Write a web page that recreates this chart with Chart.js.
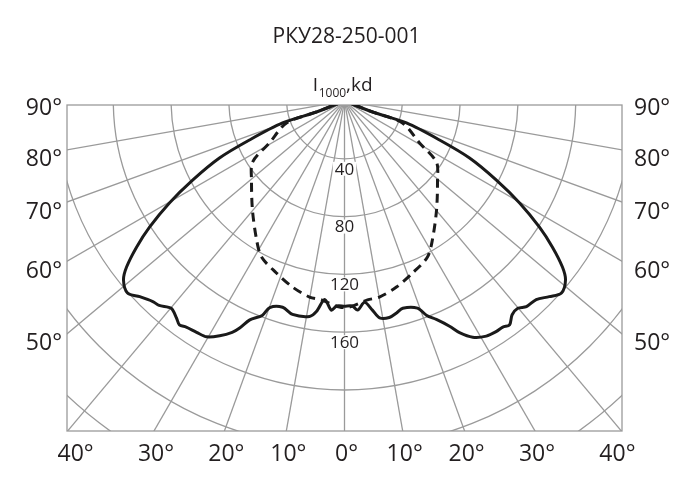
<!DOCTYPE html>
<html>
<head>
<meta charset="utf-8">
<script src="https://cdn.jsdelivr.net/npm/chart.js@4.4.0/dist/chart.umd.min.js"></script>
<style>
  html, body { margin: 0; padding: 0; background: #fff; }
  canvas { display: block; }
</style>
</head>
<body>
<canvas id="polar" width="691" height="494" style="width:691px;height:494px"></canvas>
<script>
// angles are measured from the downward vertical (0°), negative to the left; listed in drawing order
const solidAngles = [-90, -68.6, -70.5, -67.7, -65.5, -62.5, -59.8, -57.1, -54.9, -52.7, -51, -48.5,
  -46.3, -43.7, -42.2, -39.9, -37.7, -36.4, -35, -32.6, -30.3, -28, -25.9, -24.8, -23.4, -21, -19.9, -16.7, -13.7,
  -9.2, -7.6, -5.7, -3.6, -2.2, 0, 2.2, 3.6, 5.7, 7.6, 9.2, 11.7, 13.8, 15.7, 19.4, 21, 22.8, 25, 26.4, 28.5, 31.1,
  33.3, 35, 36.4, 38.1, 39.9, 41.5, 44, 46.3, 48.5, 51, 52.7, 54.9, 57.1, 59.8, 62.5, 65.5, 67.7, 70.5, 68.6, 90];
const solidValues = [0, 20.8, 45.5, 71.1, 95.1, 118.5, 140.2, 160.7, 175.9, 189.6, 196.8, 200.5,
  196, 192, 191, 187, 190, 192.5, 191, 190, 189, 184, 178, 173, 165, 159, 152, 149, 152,
  151, 147, 138, 145, 142, 142, 142, 145, 140, 146, 152, 153, 151, 149, 152, 159, 164, 172, 179, 186, 190,
  191, 191, 192.5, 188, 187, 190, 191, 196, 200.5, 196.8, 189.6, 175.9, 160.7, 140.2, 118.5, 95.1, 71.1, 45.5, 20.8, 0];

const dashedAngles = [-90, -68.6, -69.2, -60.8, -56.4, -49.7, -40.2, -32.3, -28, -21.6, -15.6, -10.1, -6.6, -1.4,
  1.4, 6.6, 10.1, 15.6, 21.6, 28, 32.3, 40.2, 49.7, 56.4, 60.8, 69.2, 68.6, 90];
const dashedValues = [0, 20.8, 42.9, 59.5, 76.4, 84.4, 98.7, 113.8, 122.3, 128, 133.7, 137.8, 138.6, 142.6,
  142.6, 138.6, 137.8, 133.7, 128, 122.3, 113.8, 98.7, 84.4, 76.4, 59.5, 42.9, 20.8, 0];

const ringValues = [40, 80, 120, 160, 200, 240, 280, 320];
const ringLabels = ['40', '80', '120', '160'];
const spokeAngles = [-90, -80, -70, -60, -50, -40, -30, -20, -10, 0, 10, 20, 30, 40, 50, 60, 70, 80, 90];
const sideAngles = [90, 80, 70, 60, 50];
const bottomAngles = [-40, -30, -20, -10, 0, 10, 20, 30, 40];

const chartTitle = 'РКУ28-250-001';

// layout: 57.8 px per 40 kd ring, pole sits 4 px above the frame
const PX_PER_KD = 57.8 / 40;
const X_LIMIT = 277.5 / PX_PER_KD;
const Y_TOP = -4 / PX_PER_KD;
const Y_BOTTOM = -330 / PX_PER_KD;

const rad = d => d * Math.PI / 180;
function toXY(angles, values) {
  return angles.map((a, i) => ({ x: values[i] * Math.sin(rad(a)), y: -values[i] * Math.cos(rad(a)) }));
}

const TEXT = '#231f20';
const GRID = '#9a9a9a';
const FONT = '"Open Sans", "Noto Sans", sans-serif';

const polarGrid = {
  id: 'polarGrid',
  beforeDatasetsDraw(chart) {
    const { ctx, chartArea: a, scales: { x, y } } = chart;
    const cx = x.getPixelForValue(0), cy = y.getPixelForValue(0);
    ctx.save();
    ctx.beginPath();
    ctx.rect(a.left, a.top, a.right - a.left, a.bottom - a.top);
    ctx.clip();
    ctx.strokeStyle = GRID;
    ctx.lineWidth = 1.3;
    ringValues.forEach(v => {
      const r = x.getPixelForValue(v) - cx;
      ctx.beginPath();
      ctx.arc(cx, cy, r, 0, Math.PI * 2);
      ctx.stroke();
    });
    spokeAngles.forEach(d => {
      const far = 600;
      ctx.beginPath();
      ctx.moveTo(cx, cy);
      ctx.lineTo(x.getPixelForValue(far * Math.sin(rad(d))), y.getPixelForValue(-far * Math.cos(rad(d))));
      ctx.stroke();
    });
    ctx.restore();

    ctx.save();
    ctx.strokeStyle = GRID;
    ctx.lineWidth = 1.3;
    ctx.strokeRect(a.left, a.top, a.right - a.left, a.bottom - a.top);

    // ring values on the vertical axis, white box hides the grid under them
    ctx.font = '17px ' + FONT;
    ctx.textAlign = 'center';
    ctx.textBaseline = 'middle';
    ringLabels.forEach((t, i) => {
      const py = y.getPixelForValue(-ringValues[i]) + 10;
      const w = ctx.measureText(t).width;
      ctx.fillStyle = '#fff';
      ctx.fillRect(cx - w / 2 - 2, py - 7, w + 4, 14);
      ctx.fillStyle = TEXT;
      ctx.fillText(t, cx, py + 1);
    });
    ctx.restore();
  },
  afterDraw(chart) {
    const { ctx, chartArea: a, scales: { x, y } } = chart;
    const cx = x.getPixelForValue(0);
    ctx.save();
    ctx.fillStyle = TEXT;

    // title
    ctx.font = '21px ' + FONT;
    ctx.textAlign = 'center';
    ctx.textBaseline = 'alphabetic';
    ctx.fillText(chartTitle, cx + 2, 43);

    // I1000,kd
    const big = '19px ' + FONT, small = '12px ' + FONT;
    ctx.font = big;
    const wI = ctx.measureText('I').width, wK = ctx.measureText(',kd').width;
    ctx.font = small;
    const wS = ctx.measureText('1000').width;
    let lx = cx - 2 - (wI + wS + wK) / 2;
    ctx.textAlign = 'left';
    ctx.font = big;
    ctx.fillText('I', lx, 91);
    lx += wI + 0.5;
    ctx.font = small;
    ctx.fillText('1000', lx, 97);
    lx += wS;
    ctx.font = big;
    ctx.fillText(',kd', lx, 91);

    // angle labels on both sides
    ctx.font = '23px ' + FONT;
    ctx.textBaseline = 'middle';
    sideAngles.forEach(d => {
      const py = d === 90 ? a.top + 3 : y.getPixelForValue(-X_LIMIT / Math.tan(rad(d))) + 10;
      ctx.textAlign = 'right';
      ctx.fillText(d + '°', a.left - 5, py);
      ctx.textAlign = 'left';
      ctx.fillText(d + '°', a.right + 12, py);
    });

    // angle labels along the bottom
    ctx.textAlign = 'center';
    bottomAngles.forEach(d => {
      let px = x.getPixelForValue(-Y_BOTTOM * Math.tan(rad(d)));
      if (Math.abs(d) === 40) px -= Math.sign(d) * 6;
      ctx.fillText(Math.abs(d) + '°', px + 2, a.bottom + 23);
    });
    ctx.restore();
  }
};

new Chart(document.getElementById('polar'), {
  type: 'scatter',
  data: {
    datasets: [
      {
        data: toXY(solidAngles, solidValues),
        showLine: true,
        borderColor: '#1a1a1a',
        borderWidth: 3,
        pointRadius: 0,
        tension: 0.3
      },
      {
        data: toXY(dashedAngles, dashedValues),
        showLine: true,
        borderColor: '#1a1a1a',
        borderWidth: 3,
        borderDash: [9, 6],
        pointRadius: 0,
        tension: 0.3
      }
    ]
  },
  options: {
    responsive: false,
    animation: false,
    layout: { padding: { left: 67, right: 69, top: 105, bottom: 63 } },
    plugins: { legend: { display: false }, tooltip: { enabled: false } },
    scales: {
      x: { type: 'linear', min: -X_LIMIT, max: X_LIMIT, display: false },
      y: { type: 'linear', min: Y_BOTTOM, max: Y_TOP, display: false }
    }
  },
  plugins: [polarGrid]
});
</script>
</body>
</html>
